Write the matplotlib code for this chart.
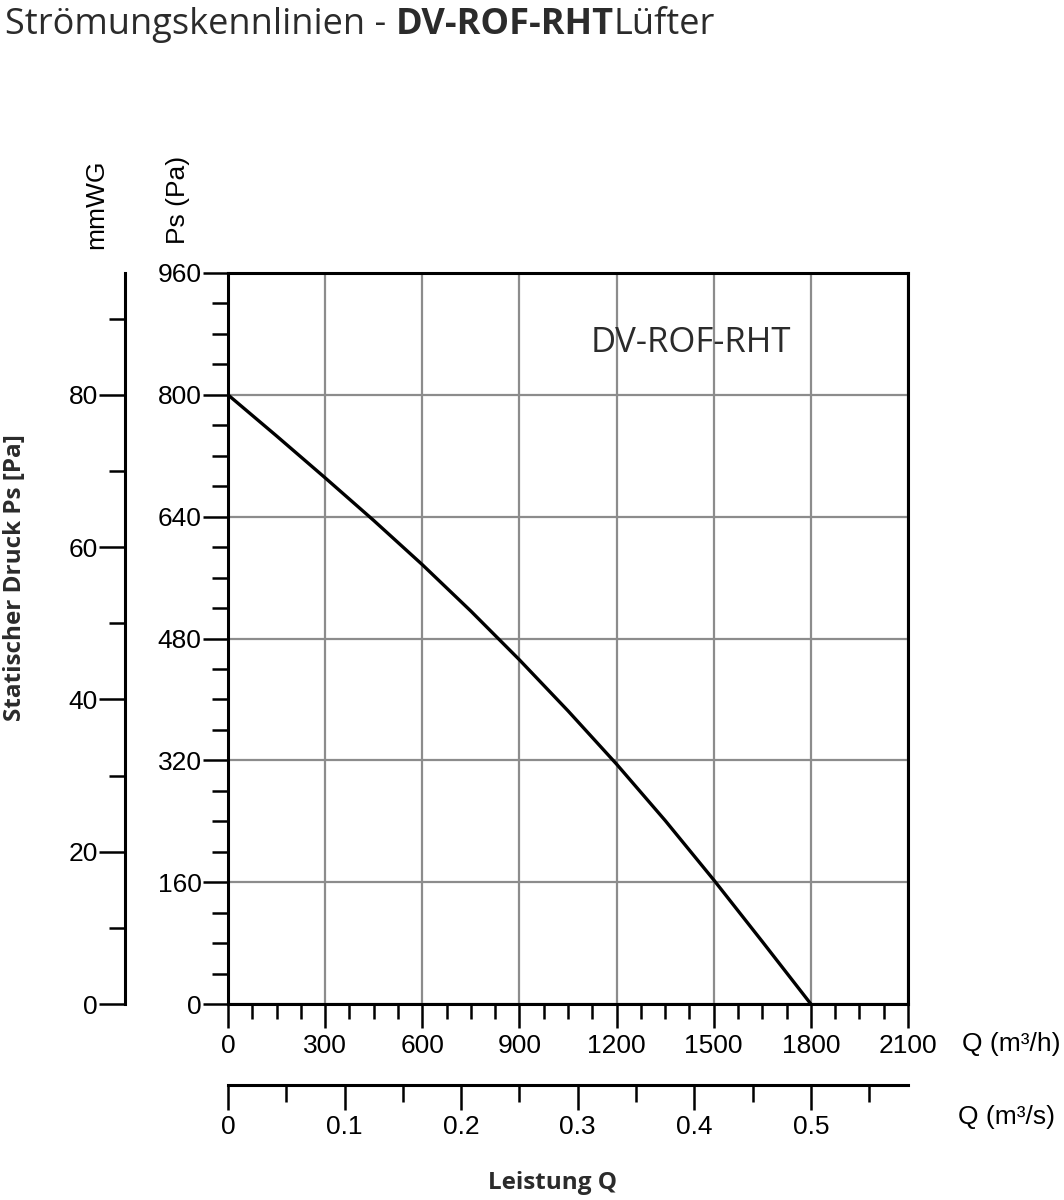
import matplotlib
matplotlib.use("Agg")
import matplotlib.pyplot as plt
from matplotlib.ticker import MultipleLocator, FixedLocator, FixedFormatter

# ---------------- data ----------------
flow_m3h = [0, 150, 300, 450, 600, 750, 900, 1050, 1200, 1350, 1500, 1650, 1800]
pressure_pa = [800, 746, 691, 635, 577, 516, 452, 385, 315, 241, 163, 82, 0]

q_ticks_m3h = [0, 300, 600, 900, 1200, 1500, 1800, 2100]
p_ticks_pa = [0, 160, 320, 480, 640, 800, 960]
mmwg_ticks = [0, 20, 40, 60, 80]
q_ticks_m3s = [0, 0.1, 0.2, 0.3, 0.4, 0.5]
q_ticks_m3s_labels = ["0", "0.1", "0.2", "0.3", "0.4", "0.5"]

title_regular = "Strömungskennlinien - "
title_bold = "DV-ROF-RHT"
title_tail = "Lüfter"
model_label = "DV-ROF-RHT"

# ---------------- layout ----------------
W, H = 1064, 1200
fig = plt.figure(figsize=(W / 100, H / 100), dpi=100)
fig.patch.set_facecolor("white")

def fx(px):
    return px / W

def fy(py):
    return 1 - py / H

TICKFONT = "Liberation Sans"
TXTFONT = "Open Sans"
DARK = "#2b2b2b"
LW_SPINE = 2.2
FS = 19

left, right, top, bottom = 228, 908, 273, 1004
ax = fig.add_axes([fx(left), fy(bottom), (right - left) / W, (bottom - top) / H])
ax.set_xlim(0, 2100)
ax.set_ylim(0, 960)
ax.plot(flow_m3h, pressure_pa, color="black", lw=2.4, zorder=3,
        solid_joinstyle="round", solid_capstyle="round")

ax.xaxis.set_major_locator(FixedLocator(q_ticks_m3h))
ax.xaxis.set_minor_locator(MultipleLocator(75))
ax.yaxis.set_major_locator(FixedLocator(p_ticks_pa))
ax.yaxis.set_minor_locator(MultipleLocator(40))
ax.grid(True, which="major", color="#8c8c8c", lw=1.6, zorder=1)
for s in ax.spines.values():
    s.set_linewidth(LW_SPINE)
    s.set_zorder(4)
ax.tick_params(axis="y", which="major", direction="out", length=18, width=1.8, pad=1, labelsize=FS)
ax.tick_params(axis="y", which="minor", direction="out", length=11.5, width=1.8)
ax.tick_params(axis="x", which="major", direction="out", length=17.5, width=1.8, pad=4, labelsize=FS)
ax.tick_params(axis="x", which="minor", direction="out", length=11, width=1.8)
for lab in ax.get_xticklabels() + ax.get_yticklabels():
    lab.set_fontfamily(TICKFONT)

fig.text(fx(691), fy(343), model_label, ha="center", va="center", fontsize=25,
         fontfamily=TXTFONT, color=DARK)

# ---------------- mmWG axis ----------------
ax2 = fig.add_axes([fx(125), fy(bottom), 0.0001, (bottom - top) / H])
ax2.set_ylim(0, 96)
ax2.set_xticks([])
for k in ["right", "top", "bottom"]:
    ax2.spines[k].set_visible(False)
ax2.spines["left"].set_linewidth(LW_SPINE)
ax2.yaxis.set_major_locator(FixedLocator(mmwg_ticks))
ax2.yaxis.set_minor_locator(FixedLocator([10, 30, 50, 70, 90]))
ax2.tick_params(axis="y", which="major", direction="out", length=18.5, width=1.8, pad=1, labelsize=FS)
ax2.tick_params(axis="y", which="minor", direction="out", length=11.5, width=1.8)
ax2.patch.set_visible(False)
for lab in ax2.get_yticklabels():
    lab.set_fontfamily(TICKFONT)

# ---------------- m3/s axis ----------------
ax3 = fig.add_axes([fx(left), fy(1085), (right - left) / W, 0.0001])
ax3.set_xlim(0, 2100 / 3600)
ax3.set_yticks([])
for k in ["right", "top", "left"]:
    ax3.spines[k].set_visible(False)
ax3.spines["bottom"].set_linewidth(LW_SPINE)
ax3.xaxis.set_major_locator(FixedLocator(q_ticks_m3s))
ax3.xaxis.set_major_formatter(FixedFormatter(q_ticks_m3s_labels))
ax3.xaxis.set_minor_locator(FixedLocator([0.05, 0.15, 0.25, 0.35, 0.45, 0.55]))
ax3.tick_params(axis="x", which="major", direction="out", length=18, width=1.8, pad=3.5, labelsize=FS)
ax3.tick_params(axis="x", which="minor", direction="out", length=12, width=1.8)
ax3.patch.set_visible(False)
for lab in ax3.get_xticklabels():
    lab.set_fontfamily(TICKFONT)

# ---------------- texts ----------------
fig.text(fx(962), fy(1044), "Q (m³/h)", ha="left", va="center", fontsize=FS, fontfamily=TICKFONT)
fig.text(fx(958), fy(1117), "Q (m³/s)", ha="left", va="center", fontsize=FS, fontfamily=TICKFONT)
fig.text(fx(96), fy(204), "mmWG", ha="center", va="center", rotation=90, fontsize=FS, fontfamily=TICKFONT)
fig.text(fx(178), fy(200), "Ps (Pa)", ha="center", va="center", rotation=90, fontsize=FS, fontfamily=TICKFONT)
fig.text(fx(15), fy(578), "Statischer Druck Ps [Pa]", ha="center", va="center", rotation=90,
         fontsize=17.5, fontweight="bold", fontfamily=TXTFONT, color=DARK)
fig.text(fx(553), fy(1183), "Leistung Q", ha="center", va="center",
         fontsize=17.5, fontweight="bold", fontfamily=TXTFONT, color=DARK)

t1 = fig.text(fx(5), fy(43), title_regular, ha="left", va="bottom", fontsize=26,
              fontfamily=TXTFONT, color=DARK)
t2 = ax.annotate(title_bold, xy=(1, 0), xycoords=t1, ha="left", va="bottom", fontsize=26,
                 fontweight="bold", fontfamily=TXTFONT, color=DARK, annotation_clip=False)
t3 = ax.annotate(title_tail, xy=(1, 0), xycoords=t2, ha="left", va="bottom", fontsize=26,
                 fontfamily=TXTFONT, color=DARK, annotation_clip=False)

fig.savefig("out.png", dpi=100)
